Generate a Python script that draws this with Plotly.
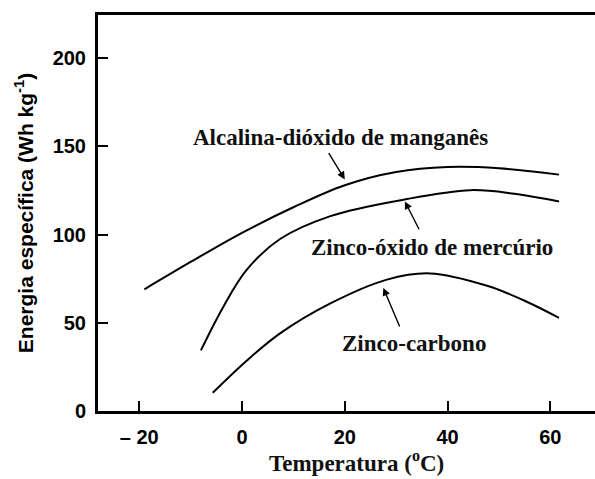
import plotly.graph_objects as go

# Specific energy vs temperature for three primary battery chemistries
temp_alcalina = [-19.0, -10.0, 0.0, 10.0, 20.0, 30.0, 40.0, 50.0, 61.7]
energia_alcalina = [69.0, 84.5, 101.0, 115.5, 128.0, 135.5, 138.3, 137.6, 134.0]

temp_mercurio = [-8.0, -3.6, 0.9, 7.4, 17.2, 31.4, 44.4, 53.0, 61.7]
energia_mercurio = [34.4, 59.3, 80.0, 97.5, 110.5, 119.8, 125.2, 123.2, 118.8]

temp_carbono = [-5.7, 0.9, 7.4, 17.2, 28.2, 36.6, 47.7, 55.0, 61.7]
energia_carbono = [10.3, 28.5, 44.0, 61.0, 74.5, 78.0, 71.0, 62.5, 52.8]

x_ticks = [-20, 0, 20, 40, 60]
x_tick_labels = ["\u2013 20", "0", "20", "40", "60"]
y_ticks = [0, 50, 100, 150, 200]

# Curve labels: (text, x, y) and arrow (tail x, tail y, tip x, tip y)
labels = [
    ("Alcalina-dióxido de manganês", 19.1, 155.0),
    ("Zinco-óxido de mercúrio", 36.9, 92.6),
    ("Zinco-carbono", 33.5, 38.5),
]
arrows = [
    (16.7, 147.0, 20.0, 131.3),
    (34.6, 102.2, 31.7, 118.8),
    (30.8, 47.1, 27.5, 69.8),
]

fig = go.Figure()
for xs, ys in [(temp_alcalina, energia_alcalina),
               (temp_mercurio, energia_mercurio),
               (temp_carbono, energia_carbono)]:
    fig.add_trace(go.Scatter(x=xs, y=ys, mode="lines",
                             line=dict(color="black", width=2, shape="spline", smoothing=1.0),
                             showlegend=False, hoverinfo="skip"))

serif = dict(family="Liberation Serif", size=23, color="#111111", weight="bold")
for text, lx, ly in labels:
    fig.add_annotation(x=lx, y=ly, text=text, showarrow=False, font=serif,
                       xanchor="center", yanchor="middle")
for tx, ty, hx, hy in arrows:
    fig.add_annotation(x=hx, y=hy, ax=tx, ay=ty, xref="x", yref="y",
                       axref="x", ayref="y", text="", showarrow=True,
                       arrowhead=2, arrowsize=1.1, arrowwidth=1.4, arrowcolor="black")

# x-axis title
fig.add_annotation(xref="paper", yref="paper", x=0.521, y=-0.168, yanchor="bottom",
                   text="Temperatura (<sup>o</sup>C)", showarrow=False,
                   font=dict(family="Liberation Serif", size=23, color="#111111", weight="bold"))

fig.update_layout(
    width=595, height=479,
    margin=dict(l=98, r=0, t=15, b=68),
    paper_bgcolor="white", plot_bgcolor="white",
    xaxis=dict(range=[-28.03, 68.7], tickvals=x_ticks, ticktext=x_tick_labels,
               showline=True, linecolor="black", linewidth=3, mirror=True,
               ticks="inside", ticklen=10, tickwidth=2, tickcolor="black",
               showgrid=False, zeroline=False, ticklabelstandoff=6,
               tickfont=dict(family="Liberation Sans", size=20, color="black", weight="bold")),
    yaxis=dict(range=[0, 224.5], tickvals=y_ticks,
               showline=True, linecolor="black", linewidth=3, mirror=False,
               ticks="inside", ticklen=10, tickwidth=2, tickcolor="black",
               showgrid=False, zeroline=False, ticklabelstandoff=5,
               title=dict(text="Energia específica (Wh kg<sup>-1</sup>)", standoff=14,
                          font=dict(family="Liberation Sans", size=21, color="black", weight="bold")),
               tickfont=dict(family="Liberation Sans", size=20, color="black", weight="bold")),
)

fig.write_html("out.html")
